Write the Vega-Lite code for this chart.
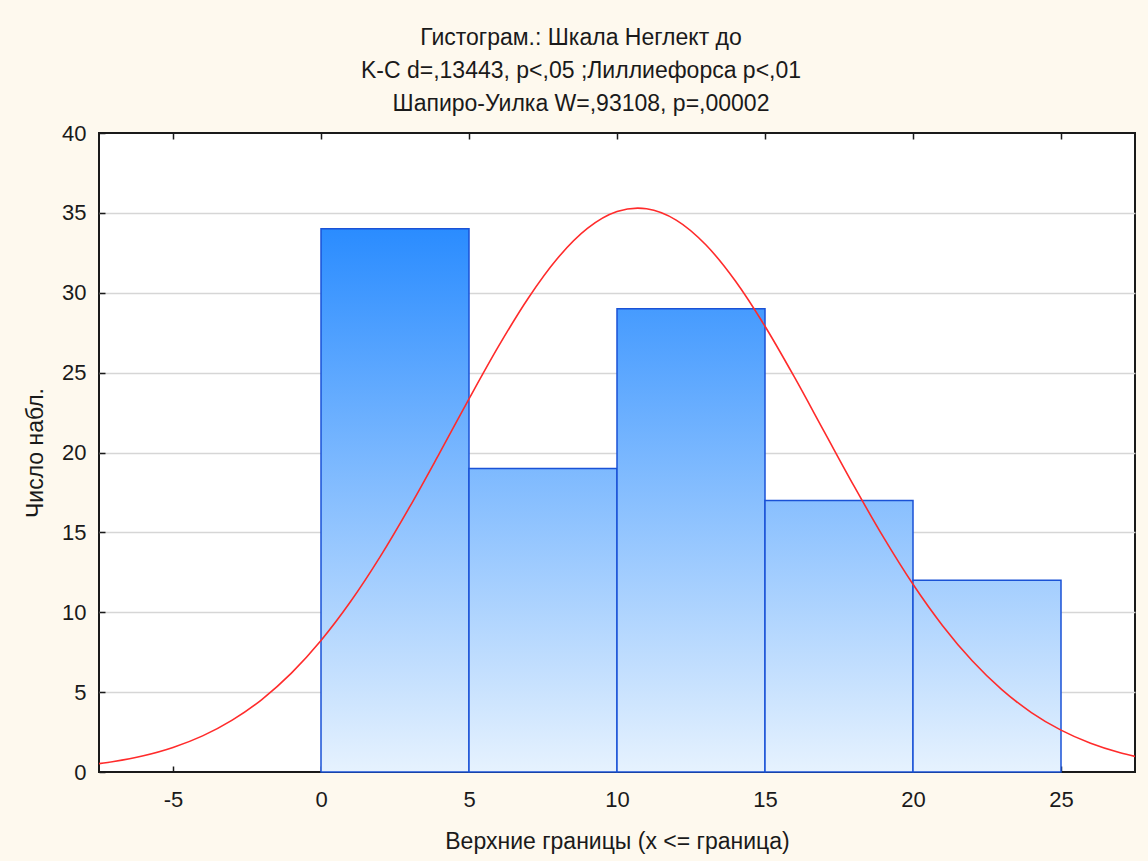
{
  "$schema": "https://vega.github.io/schema/vega-lite/v6.json",
  "autosize": "none",
  "width": 1036,
  "height": 639,
  "padding": {"left": 99, "top": 133, "right": 13, "bottom": 89},
  "background": "#FEF9EE",
  "config": {
    "font": "Liberation Sans",
    "view": {"fill": "white", "stroke": "#1a1a1a", "strokeWidth": 2},
    "axis": {"labelFont": "Liberation Sans", "titleFont": "Liberation Sans", "labelFontSize": 22, "titleFontSize": 23, "labelColor": "#1a1a1a", "titleColor": "#1a1a1a", "titleFontWeight": "normal", "tickColor": "#1a1a1a", "tickWidth": 1.5, "domain": false}
  },
  "title": {
    "text": ["Гистограм.: Шкала Неглект до", "K-C d=,13443, p<,05 ;Лиллиефорса p<,01", "Шапиро-Уилка W=,93108, p=,00002"],
    "font": "Liberation Sans",
    "fontSize": 23,
    "fontWeight": "normal",
    "color": "#1a1a1a",
    "lineHeight": 33,
    "anchor": "middle",
    "frame": "group",
    "dx": -36,
    "offset": 6
  },
  "resolve": {"axis": {"x": "independent", "y": "independent"}},
  "datasets": {
    "bars": [
      {"bin_start": 0, "bin_end": 5, "count": 34},
      {"bin_start": 5, "bin_end": 10, "count": 19},
      {"bin_start": 10, "bin_end": 15, "count": 29},
      {"bin_start": 15, "bin_end": 20, "count": 17},
      {"bin_start": 20, "bin_end": 25, "count": 12}
    ],
    "curve": [
      {"x": -7.5, "y": 0.523}, {"x": -7, "y": 0.657}, {"x": -6, "y": 1.017}, {"x": -5, "y": 1.537},
      {"x": -4, "y": 2.261}, {"x": -3, "y": 3.244}, {"x": -2, "y": 4.538}, {"x": -1, "y": 6.19},
      {"x": 0, "y": 8.231}, {"x": 1, "y": 10.668}, {"x": 2, "y": 13.481}, {"x": 3, "y": 16.608},
      {"x": 4, "y": 19.945}, {"x": 5, "y": 23.353}, {"x": 6, "y": 26.654}, {"x": 7, "y": 29.659},
      {"x": 8, "y": 32.175}, {"x": 9, "y": 34.026}, {"x": 10, "y": 35.081}, {"x": 10.7, "y": 35.3},
      {"x": 11, "y": 35.26}, {"x": 12, "y": 34.55}, {"x": 13, "y": 33.003}, {"x": 14, "y": 30.734},
      {"x": 15, "y": 27.902}, {"x": 16, "y": 24.697}, {"x": 17, "y": 21.309}, {"x": 18, "y": 17.925},
      {"x": 19, "y": 14.699}, {"x": 20, "y": 11.75}, {"x": 21, "y": 9.159}, {"x": 22, "y": 6.959},
      {"x": 23, "y": 5.154}, {"x": 24, "y": 3.722}, {"x": 25, "y": 2.62}, {"x": 26, "y": 1.798},
      {"x": 27, "y": 1.203}, {"x": 27.5, "y": 0.975}
    ]
  },
  "layer": [
    {
      "data": {"name": "bars"},
      "mark": {"type": "rect", "stroke": "#1a52d6", "strokeWidth": 1.5},
      "encoding": {
        "x": {"field": "bin_start", "type": "quantitative",
              "scale": {"domain": [-7.5, 27.5], "nice": false, "zero": false},
              "axis": {"orient": "bottom", "values": [-5, 0, 5, 10, 15, 20, 25], "labelExpr": "datum.value < 0 ? '-' + abs(datum.value) : '' + datum.value", "title": "Верхние границы (x <= граница)", "grid": false, "offset": -6, "tickSize": 6, "labelPadding": 17, "titlePadding": 20}},
        "x2": {"field": "bin_end"},
        "y": {"field": "count", "type": "quantitative",
              "scale": {"domain": [0, 40], "nice": false},
              "axis": {"orient": "left", "values": [0, 5, 10, 15, 20, 25, 30, 35, 40], "title": "Число набл.", "grid": false, "offset": -6, "tickSize": 6, "labelPadding": 13, "titlePadding": 14}},
        "y2": {"datum": 0},
        "fill": {
          "condition": [
            {"test": "datum.count == 34", "value": {"gradient": "linear", "x1": 0, "x2": 0, "y1": -0.17647, "y2": 1, "stops": [{"offset": 0, "color": "#097AFF"}, {"offset": 1, "color": "#E6F2FE"}]}},
            {"test": "datum.count == 19", "value": {"gradient": "linear", "x1": 0, "x2": 0, "y1": -1.10526, "y2": 1, "stops": [{"offset": 0, "color": "#097AFF"}, {"offset": 1, "color": "#E6F2FE"}]}},
            {"test": "datum.count == 29", "value": {"gradient": "linear", "x1": 0, "x2": 0, "y1": -0.37931, "y2": 1, "stops": [{"offset": 0, "color": "#097AFF"}, {"offset": 1, "color": "#E6F2FE"}]}},
            {"test": "datum.count == 17", "value": {"gradient": "linear", "x1": 0, "x2": 0, "y1": -1.35294, "y2": 1, "stops": [{"offset": 0, "color": "#097AFF"}, {"offset": 1, "color": "#E6F2FE"}]}}
          ],
          "value": {"gradient": "linear", "x1": 0, "x2": 0, "y1": -2.33333, "y2": 1, "stops": [{"offset": 0, "color": "#097AFF"}, {"offset": 1, "color": "#E6F2FE"}]}
        }
      }
    },
    {
      "data": {"name": "curve"},
      "mark": {"type": "line", "color": "#ff2b2b", "strokeWidth": 1.6, "clip": true, "interpolate": "monotone"},
      "encoding": {
        "x": {"field": "x", "type": "quantitative", "axis": {"orient": "top", "values": [-5, 0, 5, 10, 15, 20, 25], "labels": false, "title": null, "offset": -6, "tickSize": 6, "grid": false}},
        "y": {"field": "y", "type": "quantitative", "axis": {"orient": "right", "values": [5, 10, 15, 20, 25, 30, 35], "labels": false, "ticks": false, "title": null, "grid": true, "gridColor": "#d6d6d6", "gridWidth": 1.5}}
      }
    }
  ]
}
